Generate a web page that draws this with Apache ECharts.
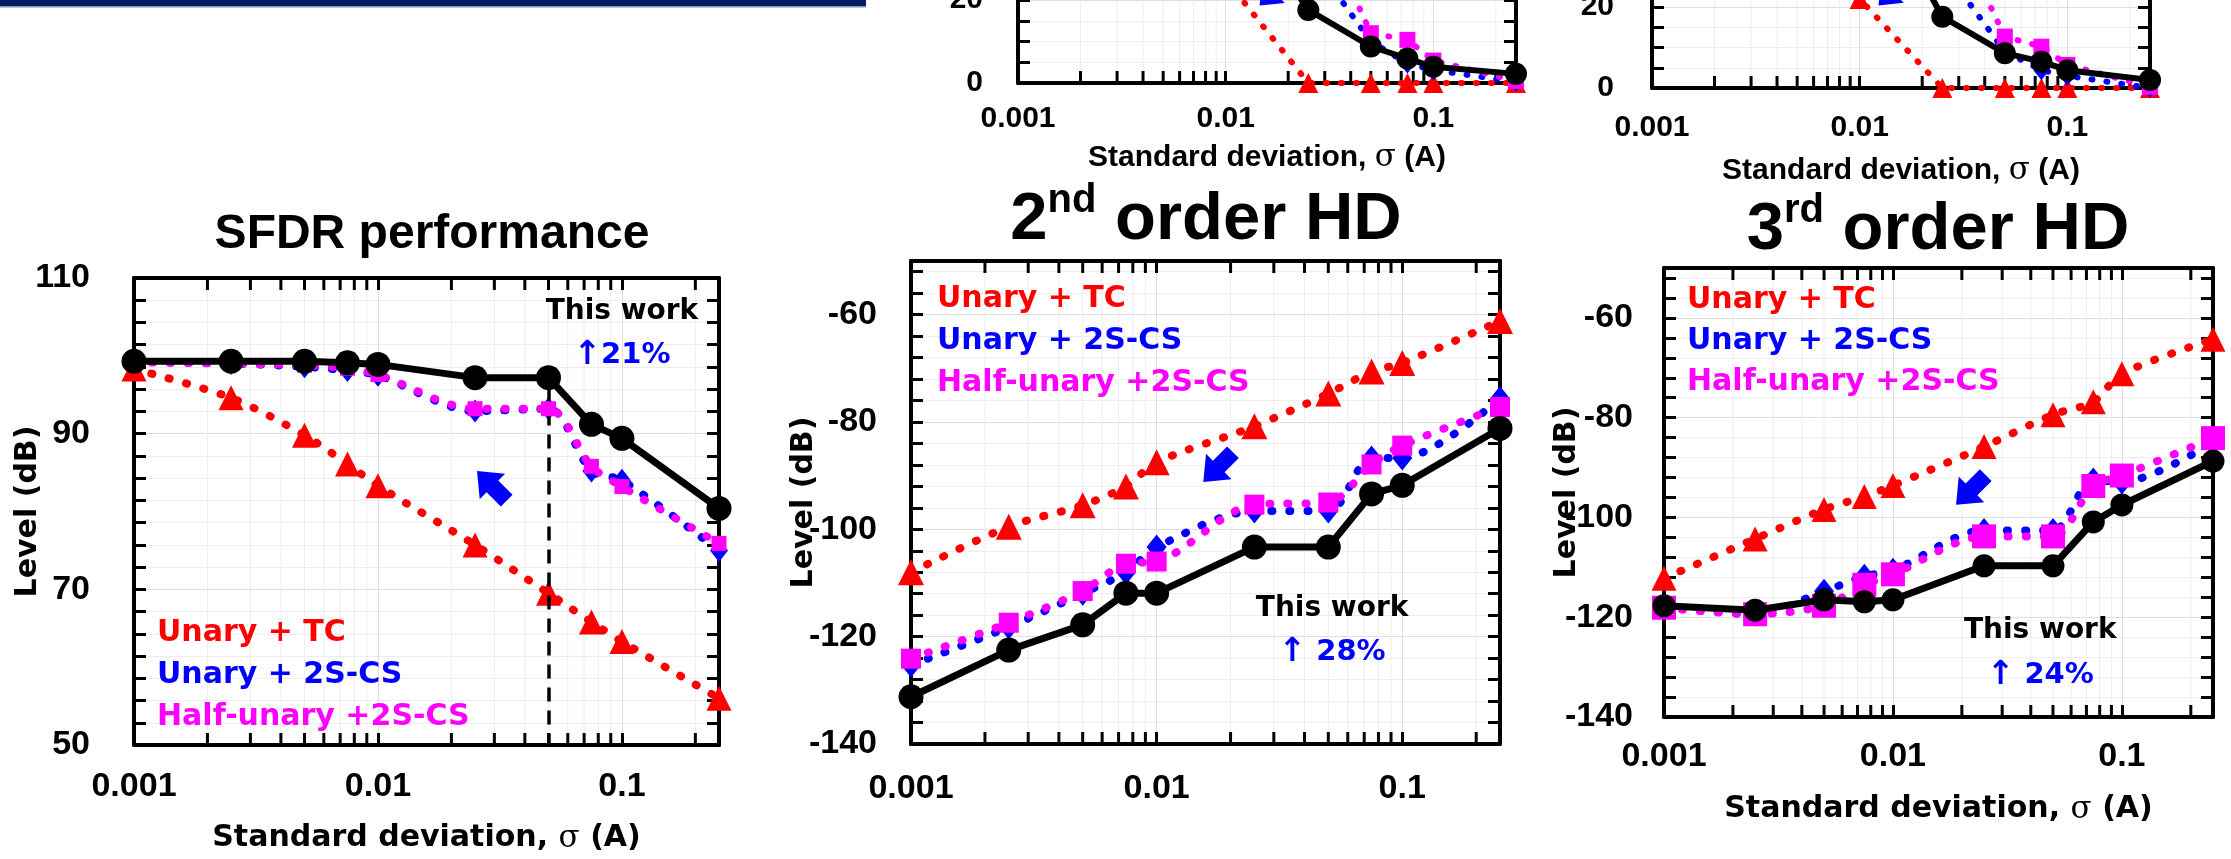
<!DOCTYPE html>
<html>
<head>
<meta charset="utf-8">
<title>SFDR and HD versus current-source mismatch</title>
<script src="https://cdn.jsdelivr.net/npm/echarts@6.0.0/dist/echarts.min.js"></script>
<style>
  html, body { margin: 0; padding: 0; background: #fff; }
  #main { width: 2231px; height: 859px; }
</style>
</head>
<body>
<div id="main"></div>
<script>
'use strict';

/* Chart data */
var sigma = [0.001, 0.0025, 0.005, 0.0075, 0.01, 0.025, 0.05, 0.075, 0.1, 0.25];
var logMinorTicks = [0.002, 0.003, 0.004, 0.005, 0.006, 0.007, 0.008, 0.009,
                     0.02, 0.03, 0.04, 0.05, 0.06, 0.07, 0.08, 0.09, 0.2];
var seriesNames = ['Unary + TC', 'Unary + 2S-CS', 'Half-unary +2S-CS', 'This work'];

// upper charts (only their bottom strip is in the picture)
var topMidTC   = [100, 100, 96, 70, 25, 0, 0, 0, 0, 0];
var topMid2S   = [100, 100, 100, 97, 88, 31, 10, 4.7, 3.1, 0.3];
var topMidHalf = [100, 100, 100, 98, 93, 45, 12, 10.4, 5.4, 0.5];
var topMidThis = [100, 100, 99, 90, 47, 17.6, 8.8, 5.9, 3.9, 2.2];

var topRightTC   = [100, 100, 96, 70, 22, 0, 0, 0, 0, 0];
var topRight2S   = [100, 100, 100, 97, 88, 30, 9, 4.4, 3, 0];
var topRightHalf = [100, 100, 100, 98, 93, 45, 12.7, 10.2, 5.7, 0.3];
var topRightThis = [100, 100, 99, 90, 55, 17.6, 8.6, 6.5, 4.4, 2.0];

// SFDR performance (dB)
var sfdrTC   = [98.3, 94.6, 89.8, 86.1, 83.3, 75.7, 69.5, 65.8, 63.3, 56.0];
var sfdr2S   = [99.2, 99.0, 98.6, 98.1, 97.5, 92.9, 93.2, 85.2, 84.0, 75.0];
var sfdrHalf = [99.2, 99.0, 98.8, 98.4, 97.6, 93.2, 93.2, 85.8, 83.2, 75.9];
var sfdrThis = [99.3, 99.3, 99.3, 99.1, 98.9, 97.2, 97.2, 91.2, 89.4, 80.4];

// 2nd order HD (dB)
var hd2TC   = [-108.0, -99.5, -95.5, -92.0, -87.5, -80.8, -74.7, -70.6, -69.0, -61.2];
var hd22S   = [-125.3, -118.2, -111.9, -108.0, -103.3, -96.6, -96.6, -86.7, -86.7, -75.6];
var hd2Half = [-124.1, -117.4, -111.5, -106.4, -106.0, -95.4, -95.0, -87.9, -84.4, -77.2];
var hd2This = [-131.2, -122.5, -117.8, -111.9, -111.9, -103.3, -103.3, -93.4, -91.8, -81.2];

// 3rd order HD (dB)
var hd3TC   = [-112.2, -104.3, -98.4, -95.8, -93.6, -85.8, -79.4, -76.8, -71.2, -64.3];
var hd32S   = [-117.7, -119.4, -114.8, -111.8, -110.6, -102.6, -102.6, -92.5, -92.9, -84.9];
var hd3Half = [-118.1, -119.4, -117.7, -113.5, -111.4, -103.8, -103.8, -93.7, -91.6, -84.1];
var hd3This = [-117.7, -118.6, -116.5, -116.9, -116.5, -109.7, -109.7, -100.9, -97.5, -88.7];

/* Look */
var COLORS = ['#ff0000', '#0000ff', '#ff00ff', '#000000'];
var SYMBOLS = ['triangle', 'diamond', 'rect', 'circle'];
var FONT_NUM = '"Liberation Sans", Arial, sans-serif';
var FONT_TXT = '"DejaVu Sans", Verdana, sans-serif';
var GRID_MAJOR = '#dedede';
var GRID_MINOR = '#ededed';
var ARROW = 'path://M50,0 L100,52 L73,52 L73,100 L27,100 L27,52 L0,52 Z';

var panels = [
  { // top middle (cut)
    values: [topMidTC, topMid2S, topMidHalf, topMidThis],
    grid: {left: 1018, top: -332, width: 498, height: 415},
    yMin: 0, yMax: 100, yStep: 20, yMinor: 4, yLabelMargin: 35, yName: false,
    tickFont: 30, xLabelMargin: 21, xName: true, xNameGap: 59, xNameFont: FONT_NUM,
    smooth: false, lw: 6, dw: 6, dash: [1, 14],
    marks: [20, [16, 20], 16, 22],
    arrow: {coord: [0.0169, 21.9], rotate: 135, size: [32, 38]}
  },
  { // top right (cut)
    values: [topRightTC, topRight2S, topRightHalf, topRightThis],
    grid: {left: 1652, top: -317, width: 498, height: 405},
    yMin: 0, yMax: 100, yStep: 20, yMinor: 4, yLabelMargin: 38, yName: false,
    tickFont: 30, xLabelMargin: 25, xName: true, xNameGap: 67, xNameFont: FONT_NUM,
    smooth: false, lw: 6, dw: 6, dash: [1, 14],
    marks: [20, [16, 20], 16, 22],
    arrow: {coord: [0.0143, 23.7], rotate: 135, size: [32, 38]}
  },
  { // SFDR performance
    values: [sfdrTC, sfdr2S, sfdrHalf, sfdrThis],
    grid: {left: 134, top: 278, width: 585, height: 467},
    yMin: 50, yMax: 110, yStep: 20, yMinor: 7, yLabelMargin: 44, yName: true, yNameGap: 91,
    tickFont: 34, xLabelMargin: 25, xName: true, xNameGap: 78, xNameFont: FONT_TXT,
    smooth: 0.3, lw: 7, dw: 8, dash: [1, 17],
    marks: [25, [18, 23], 15, 25],
    legend: {left: 152, top: 612, lh: 42},
    arrow: {coord: [0.0293, 83.3], rotate: 45, size: [36, 42]},
    note: {coord: [0.1, 102.9], text: '{a|This work}\n{b|\u2191}{c|21%}'},
    dash0: {x: 0.05, from: 95.8, to: 50}
  },
  { // 2nd order HD
    values: [hd2TC, hd22S, hd2Half, hd2This],
    grid: {left: 911, top: 261, width: 589, height: 483},
    yMin: -140, yMax: -50, yStep: 20, yMinor: 5, yLabelMargin: 34, yName: true, yNameGap: 92,
    tickFont: 34, xLabelMargin: 28, xName: false,
    smooth: 0.3, lw: 7, dw: 8, dash: [1, 17],
    marks: [26, [20, 25], 20, 25],
    legend: {left: 932, top: 278, lh: 42},
    arrow: {coord: [0.0178, -88.4], rotate: 135, size: [36, 42]},
    note: {coord: [0.0518, -118.9], text: '{a|This work}\n{b|\u2191}{c| 28%}'}
  },
  { // 3rd order HD
    values: [hd3TC, hd32S, hd3Half, hd3This],
    grid: {left: 1664, top: 268, width: 549, height: 449},
    yMin: -140, yMax: -50, yStep: 20, yMinor: 5, yLabelMargin: 31, yName: true, yNameGap: 82,
    tickFont: 34, xLabelMargin: 23, xName: true, xNameGap: 77, xNameFont: FONT_TXT,
    smooth: 0.3, lw: 7, dw: 8, dash: [1, 17],
    marks: [25, [20, 25], 24, 23],
    legend: {left: 1682, top: 280, lh: 41},
    arrow: {coord: [0.0219, -94.5], rotate: 135, size: [36, 42]},
    note: {coord: [0.044, -127.2], text: '{a|This work}\n{b|\u2191}{c| 24%}'}
  }
];

function decadeLabel(v) {
  var l = Math.log(v) / Math.LN10;
  return Math.abs(l - Math.round(l)) < 1e-6 ? String(+v.toPrecision(1)) : '';
}

function xAxisBottom(i, p) {
  return {
    type: 'log', logBase: 10, gridIndex: i, position: 'bottom', min: 0.001, max: 0.25,
    axisLine: {show: true, onZero: false, lineStyle: {color: '#000', width: 4}},
    axisTick: {show: true, inside: true, length: 12, lineStyle: {color: '#000', width: 3}},
    axisLabel: {show: true, margin: p.xLabelMargin, color: '#000', fontFamily: FONT_NUM,
      fontWeight: 'bold', fontSize: p.tickFont, formatter: decadeLabel},
    splitLine: {show: true, lineStyle: {color: GRID_MAJOR, width: 1}},
    name: p.xName ? '{n|Standard deviation, }{s|\u03c3}{n| (A)}' : '',
    nameLocation: 'middle', nameGap: p.xNameGap || 0, nameMoveOverlap: false,
    nameTextStyle: {rich: {
      n: {fontFamily: p.xNameFont, fontWeight: 'bold', fontSize: 30, color: '#000'},
      s: {fontFamily: '"DejaVu Serif", "Liberation Serif", serif', fontSize: 31, color: '#000'}
    }}
  };
}

function xAxisTop(i) {
  return {
    type: 'log', logBase: 10, gridIndex: i, position: 'top', min: 0.001, max: 0.25,
    axisLine: {show: true, onZero: false, lineStyle: {color: '#000', width: 4}},
    axisTick: {show: true, inside: true, length: 12, lineStyle: {color: '#000', width: 3}},
    axisLabel: {show: false}, splitLine: {show: false}
  };
}

function yAxisLeft(i, p) {
  return {
    type: 'value', gridIndex: i, position: 'left', min: p.yMin, max: p.yMax, interval: p.yStep,
    axisLine: {show: true, onZero: false, lineStyle: {color: '#000', width: 4}},
    axisTick: {show: true, inside: true, length: 12, lineStyle: {color: '#000', width: 3}},
    minorTick: {show: true, splitNumber: p.yMinor, length: 12, lineStyle: {color: '#000', width: 3}},
    axisLabel: {margin: p.yLabelMargin, color: '#000', fontFamily: FONT_NUM, fontWeight: 'bold',
      fontSize: p.tickFont,
      formatter: function (v) { return (v - p.yMin) % p.yStep === 0 ? String(v) : ''; }},
    splitLine: {show: true, lineStyle: {color: GRID_MAJOR, width: 1}},
    minorSplitLine: {show: true, lineStyle: {color: GRID_MINOR, width: 1}},
    name: p.yName ? 'Level (dB)' : '', nameLocation: 'middle', nameRotate: 90,
    nameGap: p.yNameGap || 0, nameMoveOverlap: false,
    nameTextStyle: {fontFamily: FONT_TXT, fontWeight: 'bold', fontSize: 30, color: '#000'}
  };
}

function yAxisRight(i, p) {
  return {
    type: 'value', gridIndex: i, position: 'right', min: p.yMin, max: p.yMax, interval: p.yStep,
    axisLine: {show: true, onZero: false, lineStyle: {color: '#000', width: 4}},
    axisTick: {show: true, inside: true, length: 12, lineStyle: {color: '#000', width: 3}},
    minorTick: {show: true, splitNumber: p.yMinor, length: 12, lineStyle: {color: '#000', width: 3}},
    axisLabel: {show: false}, splitLine: {show: false}
  };
}

// log minor ticks (2..9 per decade) on top and bottom, plus faint grid
function minorTickSeries(i, p) {
  return {
    type: 'custom', name: 'ticks', xAxisIndex: 2 * i, yAxisIndex: 2 * i,
    silent: true, z: 1, clip: false,
    data: logMinorTicks.map(function (v) { return [v, p.yMin]; }),
    renderItem: function (params, api) {
      var cs = params.coordSys;
      var x = api.coord([api.value(0), api.value(1)])[0];
      var top = cs.y, bot = cs.y + cs.height;
      return {type: 'group', children: [
        {type: 'line', shape: {x1: x, y1: top, x2: x, y2: bot}, style: {stroke: GRID_MINOR, lineWidth: 1}},
        {type: 'line', shape: {x1: x, y1: bot, x2: x, y2: bot - 12}, style: {stroke: '#000', lineWidth: 3}},
        {type: 'line', shape: {x1: x, y1: top, x2: x, y2: top + 12}, style: {stroke: '#000', lineWidth: 3}}
      ]};
    }
  };
}

function lineSeries(i, p, k) {
  var isThis = k === 3;
  var values = p.values[k];
  return {
    name: seriesNames[k], type: 'line', xAxisIndex: 2 * i, yAxisIndex: 2 * i,
    data: sigma.map(function (x, j) { return [x, values[j]]; }),
    z: 3 + k, clip: false, showSymbol: true, showAllSymbol: true,
    symbol: SYMBOLS[k], symbolSize: p.marks[k],
    smooth: isThis ? false : p.smooth,
    itemStyle: {color: COLORS[k], borderWidth: 0},
    lineStyle: isThis
      ? {color: '#000', width: p.lw, cap: 'round', join: 'round'}
      : {color: COLORS[k], width: p.dw, type: p.dash, cap: 'round'},
    emphasis: {disabled: true}
  };
}

var option = {
  animation: false,
  backgroundColor: '#ffffff',
  textStyle: {fontFamily: FONT_TXT},
  grid: [], xAxis: [], yAxis: [], series: [], legend: [],
  graphic: [
    {type: 'rect', silent: true, shape: {x: 0, y: 0, width: 866, height: 6}, style: {fill: '#002060'}},
    {type: 'rect', silent: true, shape: {x: 0, y: 6, width: 866, height: 1.5}, style: {fill: '#8496b0'}},
    {type: 'text', silent: true, x: 432, y: 235, style: {
      text: 'SFDR performance', fontFamily: FONT_NUM, fontSize: 48, fontWeight: 'bold',
      fill: '#000', align: 'center', verticalAlign: 'middle'}},
    {type: 'text', silent: true, x: 1206, y: 221, style: {
      text: '{b|2}{s|nd}{b| order HD}', align: 'center', verticalAlign: 'middle',
      rich: {
        b: {fontFamily: FONT_NUM, fontSize: 67, fontWeight: 'bold', fill: '#000', lineHeight: 80},
        s: {fontFamily: FONT_NUM, fontSize: 40, fontWeight: 'bold', fill: '#000', lineHeight: 40, verticalAlign: 'top'}
      }}},
    {type: 'text', silent: true, x: 1938, y: 231, style: {
      text: '{b|3}{s|rd}{b| order HD}', align: 'center', verticalAlign: 'middle',
      rich: {
        b: {fontFamily: FONT_NUM, fontSize: 67, fontWeight: 'bold', fill: '#000', lineHeight: 80},
        s: {fontFamily: FONT_NUM, fontSize: 40, fontWeight: 'bold', fill: '#000', lineHeight: 40, verticalAlign: 'top'}
      }}}
  ]
};

panels.forEach(function (p, i) {
  option.grid.push({
    left: p.grid.left, top: p.grid.top, width: p.grid.width, height: p.grid.height,
    containLabel: false, outerBoundsMode: 'none'
  });
  option.xAxis.push(xAxisBottom(i, p), xAxisTop(i));
  option.yAxis.push(yAxisLeft(i, p), yAxisRight(i, p));
  option.series.push(minorTickSeries(i, p));

  for (var k = 0; k < 4; k++) {
    option.series.push(lineSeries(i, p, k));
  }
  var black = option.series[option.series.length - 1];

  var marks = [{
    coord: p.arrow.coord, symbol: ARROW, symbolSize: p.arrow.size, symbolRotate: p.arrow.rotate,
    itemStyle: {color: '#0000ff'}, label: {show: false}
  }];
  if (p.note) {
    marks.push({
      coord: p.note.coord, symbol: 'circle', symbolSize: 1,
      itemStyle: {color: 'rgba(0,0,0,0)'},
      label: {
        show: true, position: 'inside', formatter: p.note.text,
        rich: {
          a: {fontFamily: FONT_TXT, fontSize: 28, fontWeight: 'bold', color: '#000', lineHeight: 44},
          b: {fontFamily: FONT_TXT, fontSize: 33, fontWeight: 'bold', color: '#0000ff', lineHeight: 44},
          c: {fontFamily: FONT_TXT, fontSize: 29, fontWeight: 'bold', color: '#0000ff', lineHeight: 44}
        }
      }
    });
  }
  black.markPoint = {silent: true, animation: false, data: marks};

  if (p.dash0) {
    black.markLine = {
      silent: true, animation: false, symbol: ['none', 'none'], label: {show: false},
      lineStyle: {color: '#000', width: 3.5, type: [14, 9]},
      data: [[{coord: [p.dash0.x, p.dash0.from]}, {coord: [p.dash0.x, p.dash0.to]}]]
    };
  }

  if (p.legend) {
    option.legend.push({
      orient: 'vertical', left: p.legend.left, top: p.legend.top, padding: 0,
      itemGap: 0, itemWidth: 0, itemHeight: 10, icon: 'none', selectedMode: false,
      textStyle: {fontFamily: FONT_TXT, fontSize: 30, fontWeight: 'bold', lineHeight: p.legend.lh},
      data: seriesNames.slice(0, 3).map(function (n, k) {
        return {name: n, textStyle: {color: COLORS[k]}};
      })
    });
  }
});

var chart = echarts.init(document.getElementById('main'));
chart.setOption(option);
</script>
</body>
</html>
